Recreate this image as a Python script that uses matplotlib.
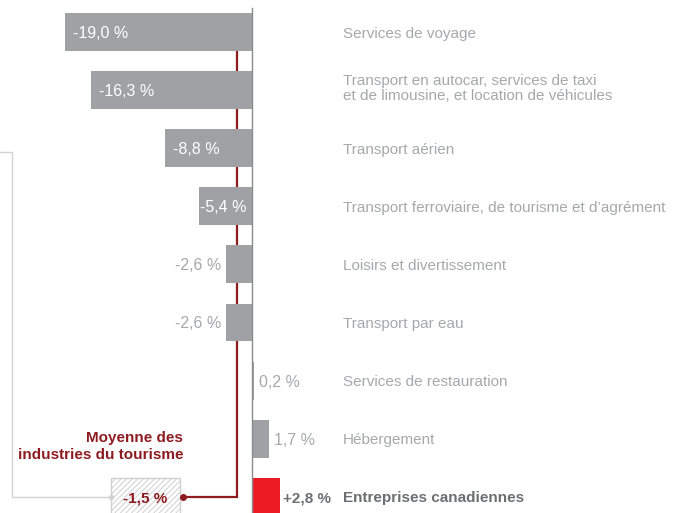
import matplotlib
matplotlib.use("Agg")
import matplotlib.pyplot as plt
from matplotlib.patches import Rectangle

plt.rcParams['font.family'] = ['Liberation Sans', 'DejaVu Sans']
plt.rcParams['hatch.linewidth'] = 0.7

categories = [
    "Services de voyage",
    "Transport en autocar, services de taxi\net de limousine, et location de véhicules",
    "Transport aérien",
    "Transport ferroviaire, de tourisme et d\u2019agrément",
    "Loisirs et divertissement",
    "Transport par eau",
    "Services de restauration",
    "Hébergement",
    "Entreprises canadiennes",
]
values = [-19.0, -16.3, -8.8, -5.4, -2.6, -2.6, 0.2, 1.7, 2.8]
value_labels = ["-19,0 %", "-16,3 %", "-8,8 %", "-5,4 %", "-2,6 %", "-2,6 %",
                "0,2 %", "1,7 %", "+2,8 %"]
average_value = -1.5
average_label = "-1,5 %"
average_title = "Moyenne des\nindustries du tourisme"

GREY_BAR = "#a0a1a4"
GREY_TXT = "#a7a8ab"
RED = "#ed1c24"
DARK_RED = "#8e1b20"
DARK_GREY = "#6d6e71"
FS = 11

fig = plt.figure(figsize=(6.73, 5.13), dpi=100)
ax = fig.add_axes([0, 0, 1, 1])
ax.set_xlim(-25.58, 42.74)
ax.set_ylim(8.279, -0.551)
ax.axis("off")

n = len(values)
ys = list(range(n))
bh = 0.654
colors = [GREY_BAR] * (n - 1) + [RED]

# average line (behind bars)
last = ys[-1]
dot_x = -7.0
ax.plot([average_value, average_value, dot_x], [ys[0] + bh / 2, last, last],
        color=DARK_RED, lw=1.6, zorder=1, solid_joinstyle="miter")
ax.plot([dot_x], [last], marker="o", ms=4, color=DARK_RED, zorder=3)

ax.barh(ys, values, height=bh, color=colors, zorder=2)

# zero axis
ax.plot([0, 0], [-0.41, 8.3], color="#8a8b8e", lw=1.0, zorder=4, clip_on=False)

# hatched average box
box = Rectangle((-14.3, last - bh / 2), 7.0, bh + 0.1, facecolor="white",
                edgecolor="#d0d0d0", hatch="//////", lw=1.0, zorder=2)
ax.add_patch(box)
ax.text(-10.8, last, average_label, ha="center", va="center_baseline", color=DARK_RED,
        fontsize=FS, fontweight="bold", zorder=5)
ax.text(-7.0, last - 0.86, average_title, ha="right", va="center", color=DARK_RED,
        fontsize=FS, fontweight="bold", linespacing=1.25)

# grey bracket
ax.plot([-25.6, -24.35, -24.35, -14.3], [2.07, 2.07, last, last],
        color="#d3d3d3", lw=1.0, zorder=1, clip_on=False)
ax.plot([-14.3], [last], marker="o", ms=3, color="#d3d3d3", zorder=3)

# value labels
for i, (v, lab) in enumerate(zip(values, value_labels)):
    if i == n - 1:
        ax.text(v + 0.35, i, lab, ha="left", va="center_baseline", color=DARK_GREY,
                fontsize=FS, fontweight="bold")
    elif v <= -5:
        pad = 0.8 if v < -8 else 0.1
        ax.text(v + pad, i, lab, ha="left", va="center_baseline", color="white",
                fontsize=11.5)
    elif v < 0:
        ax.text(v - 0.5, i, lab, ha="right", va="center_baseline", color=GREY_TXT,
                fontsize=11.5)
    else:
        ax.text(v + 0.5, i, lab, ha="left", va="center_baseline", color=GREY_TXT,
                fontsize=11.5)

# category labels
for i, c in enumerate(categories):
    if i == n - 1:
        ax.text(9.24, i, c, ha="left", va="center_baseline", color=DARK_GREY,
                fontsize=FS, fontweight="bold")
    elif "\n" in c:
        ax.text(9.24, i - 0.03, c, ha="left", va="center", color=GREY_TXT,
                fontsize=FS, linespacing=1.05)
    else:
        ax.text(9.24, i, c, ha="left", va="center_baseline", color=GREY_TXT,
                fontsize=FS)

fig.savefig("out.png", dpi=100)
